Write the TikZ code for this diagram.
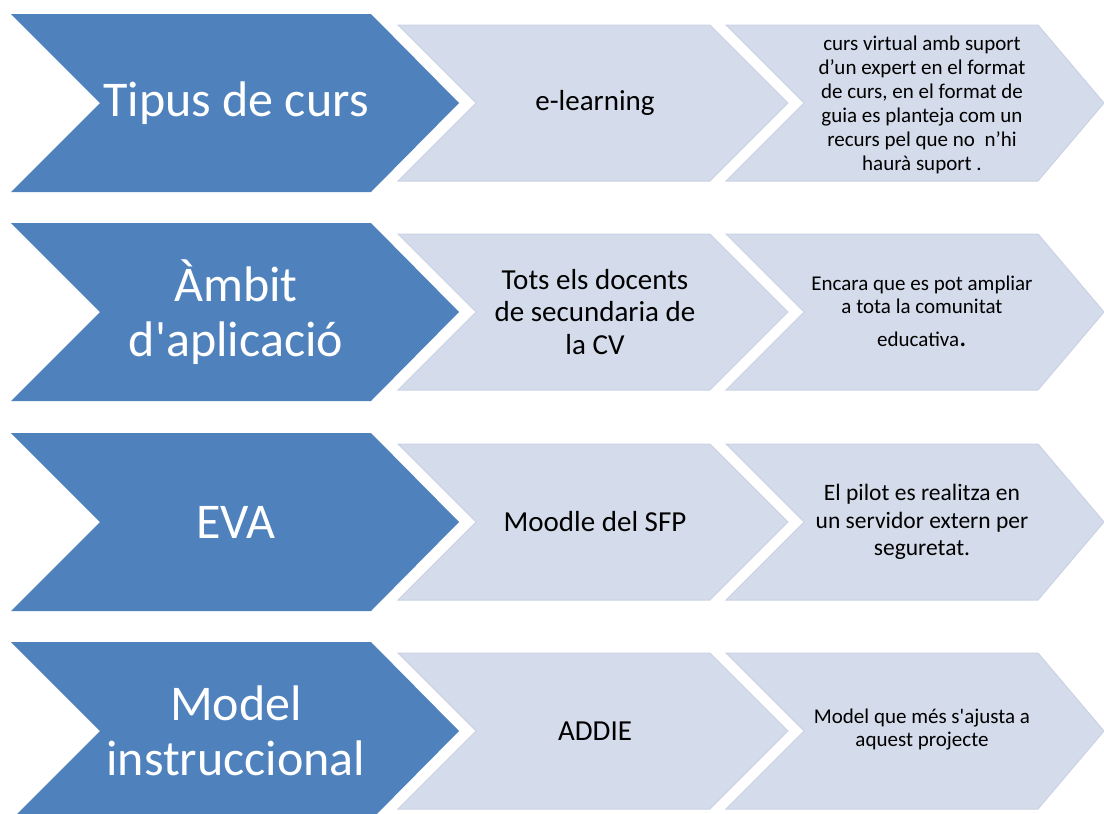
\documentclass[tikz,border=0pt]{standalone}
\usepackage{fontspec}
\setmainfont{Carlito}[Ligatures=TeXOff]
\definecolor{darkblue}{HTML}{4F81BD}
\definecolor{lightblue}{HTML}{D4DBEA}
\definecolor{lightedge}{HTML}{CAD2E4}
\newcommand{\chevshape}[6]{% style, xleft, ytop, xright corner, half height, tip depth
  \path[#1] (#2,#3) -- (#4,#3) -- (#4+#6,#3+#5) -- (#4,#3+2*#5) -- (#2,#3+2*#5) -- (#2+#5,#3+#5) -- cycle;}
\tikzset{
  darkchev/.style={fill=darkblue},
  lightchev/.style={fill=lightblue, draw=lightedge, line width=1pt, line join=miter},
  darktext/.style={text=white, align=center, inner sep=0pt, font=\fontsize{50}{55}\selectfont},
  midtext/.style={text=black, align=center, inner sep=0pt, font=\fontsize{29}{32.5}\selectfont},
  sidetext/.style={text=black, align=center, inner sep=0pt, font=\fontsize{21}{24}\selectfont},
}
\begin{document}
\begin{tikzpicture}[x=1pt,y=-1pt]
\useasboundingbox (0,0) rectangle (1104,814);
\begin{scope}
\clip (0,0) rectangle (1104,814);
% row tops: 14, 223, 433, 642
\foreach \t in {14,223,433,642}{
  \chevshape{darkchev}{11}{\t}{371}{89}{88}
  \chevshape{lightchev}{398}{\t+11}{710}{78}{78}
  \chevshape{lightchev}{726}{\t+11}{1038}{78}{66}
}
\end{scope}
% dark labels
\node[darktext] (d1) at (236,103) {Tipus de curs};
\node[darktext] (d2) at (236,312) {Àmbit\\d'aplicació};
\node[darktext] (d3) at (236,522) {EVA};
\node[darktext] (d4) at (236,731) {Model\\instruccional};
% middle labels
\node[midtext] (m1) at (595,103) {e-learning};
\node[midtext] (m2) at (595,312) {Tots els docents\\de secundaria de\\la CV};
\node[midtext] (m3) at (595,522) {Moodle del SFP};
\node[midtext] (m4) at (595,731) {ADDIE};
% side labels
\node[sidetext] (s1) at (922,105) {curs virtual amb suport\\d’un expert en el format\\de curs, en el format de\\guia es planteja com un\\recurs pel que no\ \ n’hi\\haurà suport .};
\node[sidetext, font=\fontsize{21}{23}\selectfont] (s2) at (922,311) {Encara que es pot ampliar\\a tota la comunitat\\[10pt]educativa{\fontsize{30}{30}\selectfont .}};
\node[sidetext, font=\fontsize{23.5}{27.5}\selectfont] (s3) at (922,522) {El pilot es realitza en\\un servidor extern per\\seguretat.};
\node[sidetext, font=\fontsize{21}{23}\selectfont] (s4) at (922,730) {Model que més s'ajusta a\\aquest projecte};
\end{tikzpicture}
\end{document}
